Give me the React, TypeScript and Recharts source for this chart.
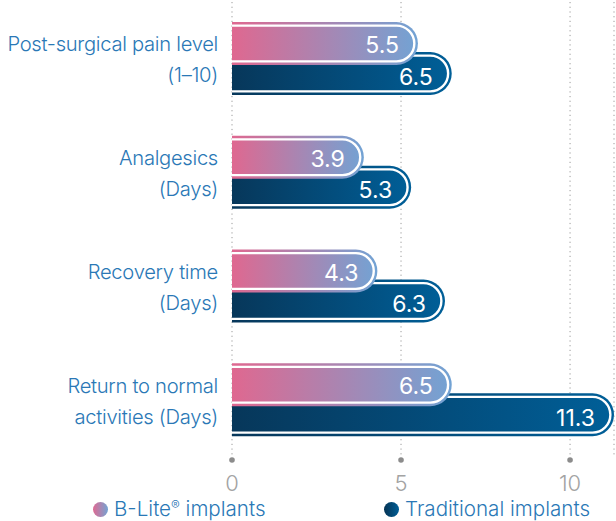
import React from "react";
import { BarChart, Bar, XAxis, YAxis, CartesianGrid, LabelList, Legend } from "recharts";

const categories = [
  ["Post-surgical pain level", "(1–10)"],
  ["Analgesics", "(Days)"],
  ["Recovery time", "(Days)"],
  ["Return to normal", "activities (Days)"],
];
const bliteValues = [5.5, 3.9, 4.3, 6.5];
const traditionalValues = [6.5, 5.3, 6.3, 11.3];
const xTicks = [0, 5, 10];
const seriesNames = ["B-Lite® implants", "Traditional implants"];

const data = categories.map((c, i) => ({
  name: c.join("\n"),
  blite: bliteValues[i],
  traditional: traditionalValues[i],
}));

const FONT = "Inter, 'Noto Sans', sans-serif";
const BLUE_TEXT = "#2a78b6";

function PillShape(props: any) {
  const { x, y, width, height, gradId } = props;
  if (!width || width <= 0) return null;
  const r = height / 2;
  const d = 3.6;
  const outer = `M ${x} ${y} H ${x + width - r} A ${r} ${r} 0 0 1 ${x + width - r} ${y + height} H ${x} Z`;
  const ri = r - d;
  const inner = `M ${x} ${y + d} H ${x + width - r} A ${ri} ${ri} 0 0 1 ${x + width - r} ${y + height - d} H ${x}`;
  return (
    <g>
      <path d={outer} fill={`url(#${gradId})`} />
      <path d={inner} fill="none" stroke="#ffffff" strokeWidth={2.4} />
    </g>
  );
}

function makeValueLabel(dy: number) {
  return (props: any) => {
    const { x, y, width, height, value } = props;
    return (
      <text
        x={x + width - 19}
        y={y + height / 2 + dy}
        textAnchor="end"
        dominantBaseline="central"
        fill="#ffffff"
        fontFamily={FONT}
        fontSize={23}
        fontWeight={400}
      >
        {value}
      </text>
    );
  };
}

function CategoryTick(props: any) {
  const { x, y, payload } = props;
  const lines = String(payload.value).split("\n");
  return (
    <text
      x={x}
      y={y}
      textAnchor="end"
      fill={BLUE_TEXT}
      fontFamily={FONT}
      fontSize={20.2}
      fontWeight={300}
      letterSpacing={-0.3}
    >
      <tspan x={x} dy={-7.5}>{lines[0]}</tspan>
      <tspan x={x} dy={31}>{lines[1]}</tspan>
    </text>
  );
}

function ValueTick(props: any) {
  const { x, y, payload } = props;
  return (
    <g>
      <circle cx={x} cy={y - 5} r={2.8} fill="#8c8c8c" />
      <text x={x} y={y + 26} textAnchor="middle" fill="#a3a3a3" fontFamily={FONT} fontSize={22} fontWeight={300}>
        {payload.value}
      </text>
    </g>
  );
}

function LegendContent() {
  const item = (cx: number, textX: number, grad: string, label: React.ReactNode) => (
    <>
      <span
        style={{
          position: "absolute",
          left: cx - 7.5,
          top: 6,
          width: 15,
          height: 15,
          borderRadius: "50%",
          background: grad,
        }}
      />
      <span
        style={{
          position: "absolute",
          left: textX,
          top: 0,
          fontFamily: FONT,
          fontSize: 20.6,
          fontWeight: 300,
          color: BLUE_TEXT,
          whiteSpace: "nowrap",
          lineHeight: "26px",
        }}
      >
        {label}
      </span>
    </>
  );
  const [bl, blRest] = seriesNames[0].split("®");
  return (
    <div style={{ position: "relative", width: 616, height: 26 }}>
      {item(
        100,
        114,
        "linear-gradient(90deg, #de6a92, #74a3d3)",
        <>
          {bl}
          <span style={{ fontSize: 13, verticalAlign: "6px", lineHeight: 0 }}>®</span>
          {blRest}
        </>
      )}
      {item(391.5, 405, "linear-gradient(90deg, #063454, #005e96)", seriesNames[1])}
    </div>
  );
}

export default function App() {
  return (
    <div style={{ position: "absolute", left: 0, top: 0, width: 616, height: 521, background: "#fff" }}>
      <BarChart
        layout="vertical"
        width={616}
        height={521}
        data={data}
        margin={{ top: 2, right: 2, bottom: 0, left: 0 }}
        barSize={43}
        barGap={-73}
      >
        <defs>
          <linearGradient id="gradBlite" x1="0" y1="0" x2="1" y2="0">
            <stop offset="0%" stopColor="#df6890" />
            <stop offset="100%" stopColor="#72a3d4" />
          </linearGradient>
          <linearGradient id="gradTrad" x1="0" y1="0" x2="1" y2="0">
            <stop offset="0%" stopColor="#07375a" />
            <stop offset="100%" stopColor="#005f98" />
          </linearGradient>
        </defs>
        <CartesianGrid horizontal={false} vertical={true} stroke="#9a9a9a" strokeDasharray="1.2 3.5" strokeWidth={1} />
        <XAxis
          type="number"
          domain={[0, 11.3]}
          ticks={xTicks}
          allowDataOverflow
          axisLine={false}
          tickLine={false}
          height={64}
          tick={<ValueTick />}
          interval={0}
        />
        <YAxis
          type="category"
          dataKey="name"
          width={232}
          axisLine={false}
          tickLine={false}
          tickSize={0}
          tickMargin={14}
          tick={<CategoryTick />}
          interval={0}
        />
        <Legend
          layout="horizontal"
          verticalAlign="middle"
          align="center"
          wrapperStyle={{ top: 496, left: 0, width: 616, height: 26 }}
          content={<LegendContent />}
        />
        <Bar
          dataKey="traditional"
          name={seriesNames[1]}
          isAnimationActive={false}
          shape={<PillShape gradId="gradTrad" />}
        >
          <LabelList dataKey="traditional" content={makeValueLabel(3)} />
        </Bar>
        <Bar
          dataKey="blite"
          name={seriesNames[0]}
          isAnimationActive={false}
          shape={<PillShape gradId="gradBlite" />}
        >
          <LabelList dataKey="blite" content={makeValueLabel(1.5)} />
        </Bar>
      </BarChart>
    </div>
  );
}
